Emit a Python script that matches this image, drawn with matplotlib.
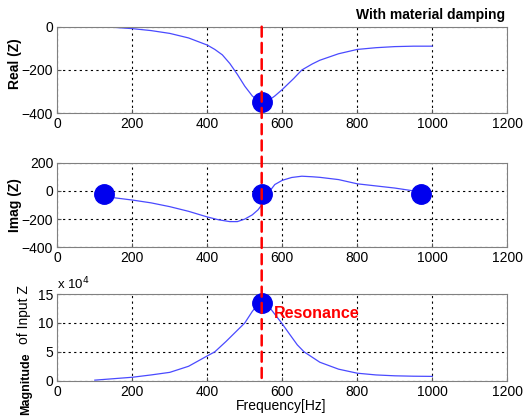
import matplotlib

matplotlib.use("Agg")
import matplotlib.pyplot as plt
from matplotlib.patches import ConnectionPatch

plt.rcParams["font.family"] = ["Liberation Sans", "DejaVu Sans"]

# ── data ────────────────────────────────────────────────
freq_real = [100, 150, 200, 250, 300, 350, 400, 420, 440, 460, 480, 500, 520, 535, 545,
             560, 580, 600, 630, 652, 680, 700, 750, 800, 850, 900, 950, 1000]
real_z = [0, -3, -9, -18, -31, -52, -85, -105, -130, -170, -220, -275, -320, -342, -352,
          -345, -320, -290, -240, -200, -172, -155, -125, -105, -97, -92, -90, -90]

freq_imag = [140, 200, 250, 300, 350, 400, 430, 460, 480, 500, 520, 535, 545, 555,
             567, 580, 600, 625, 652, 680, 700, 750, 800, 850, 900, 950]
imag_z = [-45, -65, -85, -112, -145, -185, -205, -218, -218, -200, -170, -135, -100, -60,
          0, 45, 75, 95, 104, 100, 96, 80, 50, 35, 20, 0]

freq_mag = [100, 150, 200, 250, 300, 350, 400, 420, 450, 475, 500, 520, 535, 545,
            560, 580, 598, 620, 640, 658, 700, 750, 800, 850, 900, 950, 1000]
mag_z = [0.1, 0.35, 0.6, 1.0, 1.45, 2.5, 4.3, 5.0, 6.8, 8.4, 10.0, 12.0, 13.2, 13.8,
         13.2, 11.5, 10.0, 8.0, 6.2, 5.0, 3.2, 2.0, 1.3, 1.0, 0.85, 0.78, 0.75]

f_res = 545
res_real = -350
imag_dots_f = [125, 545, 970]
imag_dots_v = [-25, -25, -25]
res_mag = 13.5

line_c = "#4a4aff"
dot_c = "#0000ee"
grid_kw = dict(color="black", linestyle=(0, (2, 3)), linewidth=0.8)

fig = plt.figure(figsize=(5.23, 4.17), dpi=100)
ax1 = fig.add_axes([0.1096, 0.7283, 0.8604, 0.2077])
ax2 = fig.add_axes([0.1096, 0.4070, 0.8604, 0.2029])
ax3 = fig.add_axes([0.1096, 0.0870, 0.8604, 0.2079])

for ax in (ax1, ax2, ax3):
    ax.set_xlim(0, 1200)
    ax.set_xticks(range(0, 1201, 200))
    ax.grid(True, **grid_kw)
    ax.tick_params(direction="in", labelsize=10, length=3, pad=3,
                   colors="#555555", labelcolor="black")
    for s in ax.spines.values():
        s.set_color("#808080")

ax1.plot(freq_real, real_z, color=line_c, linewidth=0.9)
ax1.plot([f_res], [res_real], "o", color=dot_c, markersize=14, zorder=5)
ax1.set_ylim(-400, 0)
ax1.set_yticks([-400, -200, 0])

ax2.plot(freq_imag, imag_z, color=line_c, linewidth=0.9)
ax2.plot(imag_dots_f, imag_dots_v, "o", color=dot_c, markersize=14, zorder=5)
ax2.set_ylim(-400, 200)
ax2.set_yticks([-400, -200, 0, 200])

ax3.plot(freq_mag, mag_z, color=line_c, linewidth=0.9)
ax3.plot([f_res], [res_mag], "o", color=dot_c, markersize=14, zorder=5, clip_on=False)
ax3.set_ylim(0, 15)
ax3.set_yticks([0, 5, 10, 15])
ax3.text(0, 15.3, r"x 10$^4$", fontsize=9.5, va="bottom", ha="left")
ax3.text(578, 11.6, "Resonance", color="red", fontsize=11.5, fontweight="bold", va="center")

# resonance marker line running through all three panels
con = ConnectionPatch(xyA=(f_res, 0), coordsA=ax1.transData,
                      xyB=(f_res, 0), coordsB=ax3.transData,
                      color="red", linestyle=(0, (4, 2.5)), linewidth=1.8, zorder=4)
fig.add_artist(con)

fig.text(505 / 523, 1 - 15 / 417, "With material damping", fontsize=10, fontweight="bold",
         ha="right", va="center")
fig.text(15 / 523, 1 - 64 / 417, "Real (Z)", rotation=90, fontsize=10, fontweight="bold",
         ha="center", va="center")
fig.text(15 / 523, 1 - 205 / 417, "Imag (Z)", rotation=90, fontsize=10, fontweight="bold",
         ha="center", va="center")
fig.text(26 / 523, 1 - 415 / 417, "Magnitude", rotation=90, fontsize=9, fontweight="bold",
         ha="center", va="bottom")
fig.text(24 / 523, 1 - 344 / 417, "of Input Z", rotation=90, fontsize=10,
         ha="center", va="bottom")
fig.text(281 / 523, 1 - 406 / 417, "Frequency[Hz]", fontsize=10, ha="center", va="center")

fig.savefig("out.png", dpi=100)
